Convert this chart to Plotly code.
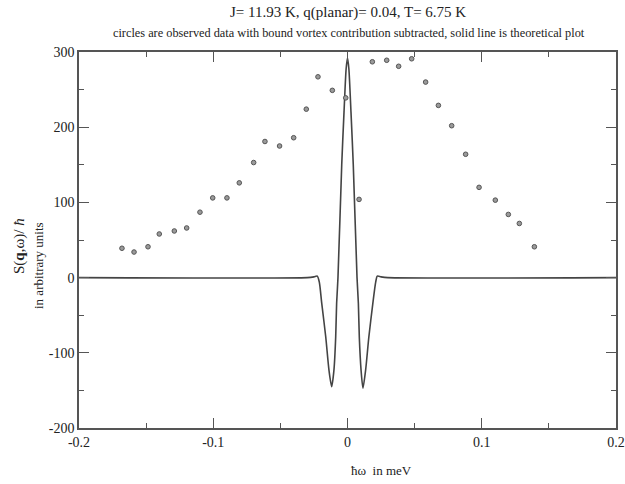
import plotly.graph_objects as go

# observed data (circles)
obs_x = [-0.168, -0.159, -0.1486, -0.1402, -0.129, -0.1198, -0.1099, -0.1004, -0.0898,
         -0.0806, -0.0699, -0.0615, -0.0506, -0.0401, -0.0307, -0.022, -0.0113, -0.0013,
         0.0086, 0.0185, 0.0292, 0.0381, 0.0478, 0.0582, 0.0677, 0.0776, 0.088, 0.098,
         0.1101, 0.1198, 0.128, 0.1392]
obs_y = [39, 34, 41, 58, 62, 66, 87, 106, 106,
         126, 153, 181, 175, 186, 224, 267, 249, 239,
         104, 287, 289, 281, 291, 260, 229, 202, 164, 120,
         103, 84, 72, 41]

# theoretical curve (solid line)
th_x = [-0.2, -0.03, -0.025, -0.0225, -0.021, -0.0192, -0.0162, -0.0138, -0.0118,
        -0.0101, -0.0088, -0.0081, -0.0071, -0.0043, -0.0026, -0.001, 0.0,
        0.001, 0.0026, 0.0043, 0.0071, 0.0081, 0.0088, 0.0101, 0.0115,
        0.0135, 0.0159, 0.0189, 0.021, 0.0222, 0.025, 0.03, 0.2]
th_y = [0, 0, 1, 2, -6, -34, -79, -123, -145,
        -123, -79, -34, 0, 150, 220, 278, 292,
        278, 220, 150, 0, -34, -79, -123, -147,
        -123, -79, -34, -6, 2, 1, 0, 0]

x_ticks = [-0.2, -0.1, 0, 0.1, 0.2]
x_tick_text = ["-0.2", "-0.1", "0", "0.1", "0.2"]
y_ticks = [-200, -100, 0, 100, 200, 300]
y_tick_text = ["-200", "-100", "0", "100", "200", "300"]

FONT = "Liberation Serif"
AX = "#555555"

W, H = 625, 484
ML, MR, MT, MB = 79, 9, 52, 56
OFF = 0  # page margin removed via post_script

fig = go.Figure()
fig.add_trace(go.Scatter(x=th_x, y=th_y, mode="lines",
                         line=dict(color="#444444", width=1.6, shape="spline", smoothing=0.7),
                         showlegend=False))
fig.add_trace(go.Scatter(x=obs_x, y=obs_y, mode="markers",
                         marker=dict(symbol="circle", size=4.6, color="#9a9a9a",
                                     line=dict(color="#555555", width=1)),
                         showlegend=False))

axis_common = dict(showgrid=False, zeroline=False, showline=True, linecolor=AX, linewidth=1.5,
                   mirror="ticks", ticks="inside", ticklen=10, tickwidth=1.2, tickcolor=AX,
                   automargin=False,
                   tickfont=dict(family=FONT, size=14, color="#222"))
fig.update_xaxes(range=[-0.2, 0.2], tickvals=x_ticks, ticktext=x_tick_text,
                 minor=dict(ticks="inside", ticklen=5, dtick=0.05, tickcolor=AX, tickwidth=1.2),
                 **axis_common)
fig.update_yaxes(range=[-200, 300], tickvals=y_ticks, ticktext=y_tick_text,
                 minor=dict(ticks="inside", ticklen=5, dtick=50, tickcolor=AX, tickwidth=1.2),
                 **axis_common)

pw = W - ML - MR
ph = H - MT - MB
def px_x(p):
    return (p - OFF - ML) / pw
def px_y(p):
    return (H - MB - (p - OFF)) / ph

def ann(text, sx, sy, size, angle=0):
    return dict(text=text, x=px_x(sx), y=px_y(sy), xref="paper", yref="paper",
                xanchor="center", yanchor="middle", showarrow=False, textangle=angle,
                font=dict(size=size, family=FONT, color="#222"))

fig.update_layout(
    width=W, height=H,
    margin=dict(l=ML, r=MR, t=MT, b=MB),
    paper_bgcolor="white", plot_bgcolor="white",
    font=dict(family=FONT, color="#222"),
    annotations=[
        ann("J= 11.93 K, q(planar)= 0.04, T= 6.75 K", 348, 13, 15),
        ann("circles are observed data with bound vortex contribution subtracted, solid line is theoretical plot",
            349, 33, 12.3),
        ann("ħω  in meV", 381, 470, 13),
        ann("S(<b>q</b>,ω)/ <i>ħ</i>", 19, 246, 15, -90),
        ann("in arbitrary units", 38, 266, 13, -90),
    ],
)

fig.write_html("out.html", config={"displayModeBar": False},
               post_script="document.body.style.margin='0px';document.body.style.padding='0px';")
